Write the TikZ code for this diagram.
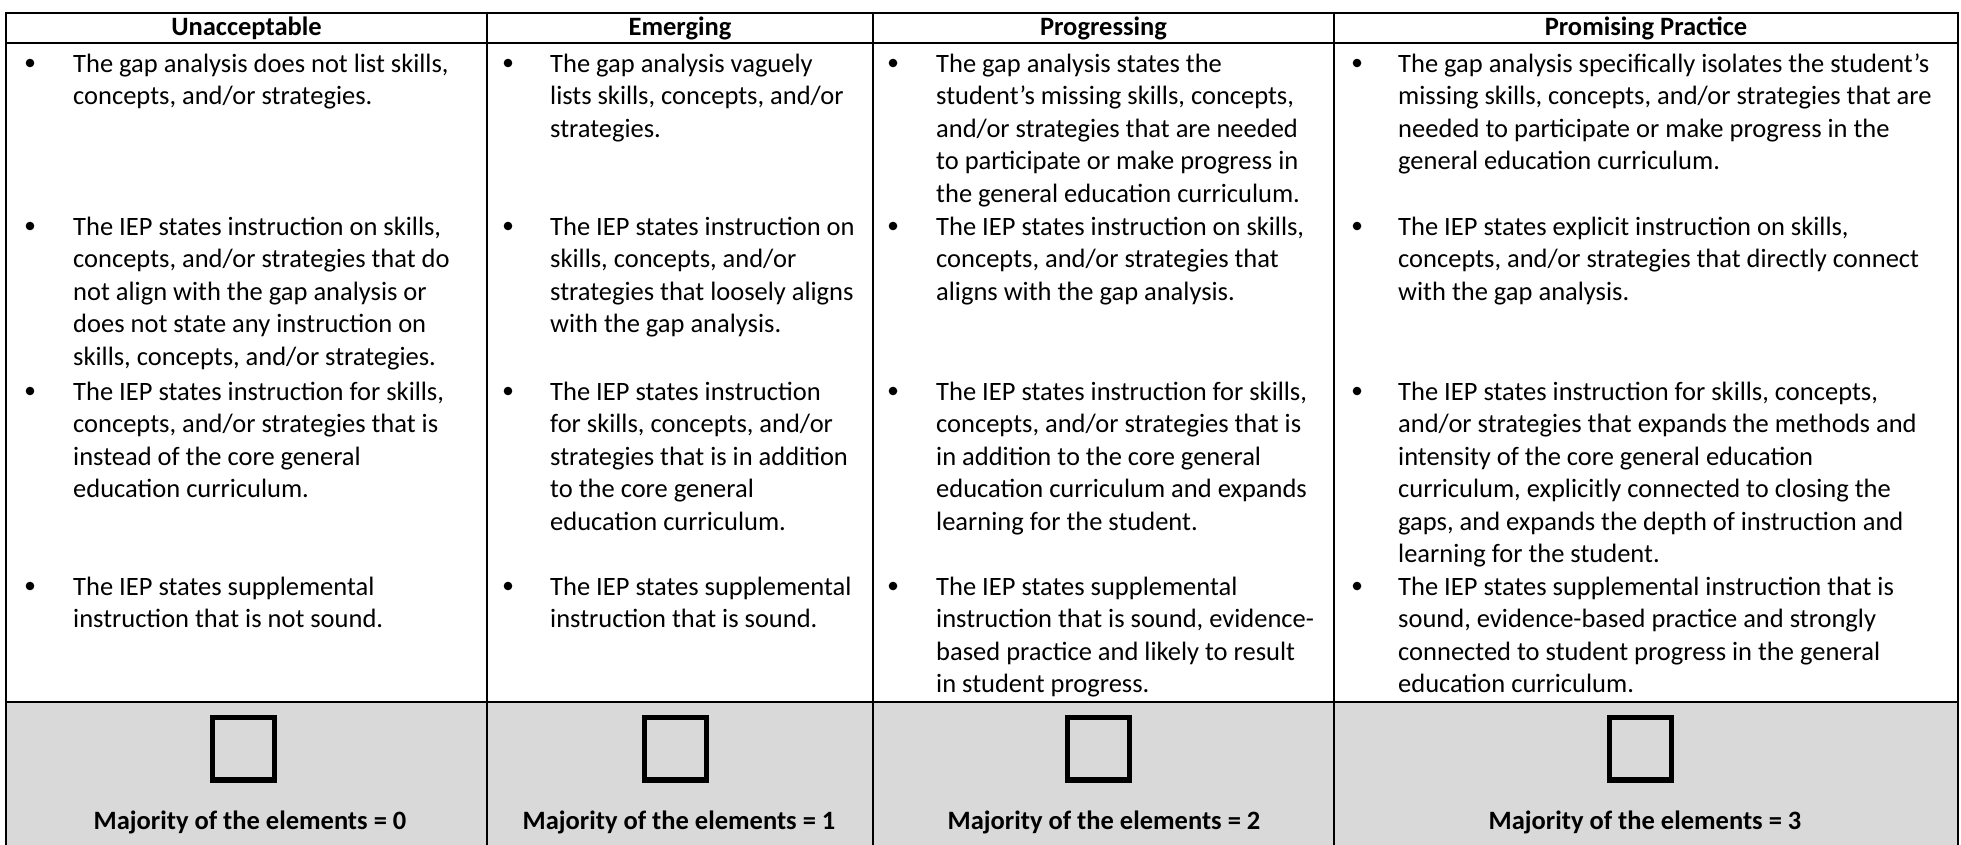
\documentclass[tikz,border=0pt]{standalone}
\usepackage{fontspec}
\setmainfont{Carlito}
\definecolor{cellgray}{HTML}{D9D9D9}
\tikzset{
  grid/.style={line width=2.7pt, black},
  body/.style={font=\fontsize{26.5}{32.5}\selectfont, align=left, anchor=north west, inner sep=0pt},
  head/.style={font=\fontsize{26.5}{32.5}\selectfont\bfseries, anchor=base, inner sep=0pt},
  chk/.style={line width=5pt, black},
}
\newcommand\bul[5]{%
  \fill ({#1},{#3-9}) circle (4.3);
  \node[body] (#4) at ({#2},{#3-22.75}) {\strut #5};}
\newcommand\chkbox[2]{%
  \draw[chk] ({#1-31},717.5) rectangle ({#1+31},779);
  \fill ({#1-33.5},778) rectangle ({#1+33.5},782.5);
  \coordinate (#2) at (#1,748);}
\begin{document}
\begin{tikzpicture}[x=1pt,y=-1pt]
\useasboundingbox (0,0) rectangle (1961,845);
% grey bottom row
\fill[cellgray] (6,702) rectangle (1958,845);
% grid
\draw[grid] (6,13) -- (1958,13);
\draw[grid] (6,43) -- (1958,43);
\draw[grid] (6,702) -- (1958,702);
\foreach \x in {6,487,873,1334,1958} \draw[grid] (\x,11.65) -- (\x,845);
% headers
\node[head] (h1) at (246.5,36) {Unacceptable};
\node[head] (h2) at (680,36) {Emerging};
\node[head] (h3) at (1103.5,36) {Progressing};
\node[head] (h4) at (1646,36) {Promising Practice};
% column 1
\bul{30}{73}{72}{a1}{The gap analysis does not list skills,\\concepts, and/or strategies.}
\bul{30}{73}{235}{a2}{The IEP states instruction on skills,\\concepts, and/or strategies that do\\not align with the gap analysis or\\does not state any instruction on\\skills, concepts, and/or strategies.}
\bul{30}{73}{400}{a3}{The IEP states instruction for skills,\\concepts, and/or strategies that is\\instead of the core general\\education curriculum.}
\bul{30}{73}{595}{a4}{The IEP states supplemental\\instruction that is not sound.}
% column 2
\bul{508}{550}{72}{b1}{The gap analysis vaguely\\lists skills, concepts, and/or\\strategies.}
\bul{508}{550}{235}{b2}{The IEP states instruction on\\skills, concepts, and/or\\strategies that loosely aligns\\with the gap analysis.}
\bul{508}{550}{400}{b3}{The IEP states instruction\\for skills, concepts, and/or\\strategies that is in addition\\to the core general\\education curriculum.}
\bul{508}{550}{595}{b4}{The IEP states supplemental\\instruction that is sound.}
% column 3
\bul{893}{936}{72}{c1}{The gap analysis states the\\student’s missing skills, concepts,\\and/or strategies that are needed\\to participate or make progress in\\the general education curriculum.}
\bul{893}{936}{235}{c2}{The IEP states instruction on skills,\\concepts, and/or strategies that\\aligns with the gap analysis.}
\bul{893}{936}{400}{c3}{The IEP states instruction for skills,\\concepts, and/or strategies that is\\in addition to the core general\\education curriculum and expands\\learning for the student.}
\bul{893}{936}{595}{c4}{The IEP states supplemental\\instruction that is sound, evidence-\\based practice and likely to result\\in student progress.}
% column 4
\bul{1357}{1398}{72}{d1}{The gap analysis specifically isolates the student’s\\missing skills, concepts, and/or strategies that are\\needed to participate or make progress in the\\general education curriculum.}
\bul{1357}{1398}{235}{d2}{The IEP states explicit instruction on skills,\\concepts, and/or strategies that directly connect\\with the gap analysis.}
\bul{1357}{1398}{400}{d3}{The IEP states instruction for skills, concepts,\\and/or strategies that expands the methods and\\intensity of the core general education\\curriculum, explicitly connected to closing the\\gaps, and expands the depth of instruction and\\learning for the student.}
\bul{1357}{1398}{595}{d4}{The IEP states supplemental instruction that is\\sound, evidence-based practice and strongly\\connected to student progress in the general\\education curriculum.}
% check boxes and labels
\chkbox{243.5}{k1}
\chkbox{675}{k2}
\chkbox{1098}{k3}
\chkbox{1640}{k4}
\node[head] (m1) at (250,829) {Majority of the elements = 0};
\node[head] (m2) at (679,829) {Majority of the elements = 1};
\node[head] (m3) at (1104,829) {Majority of the elements = 2};
\node[head] (m4) at (1645,829) {Majority of the elements = 3};
\end{tikzpicture}
\end{document}
